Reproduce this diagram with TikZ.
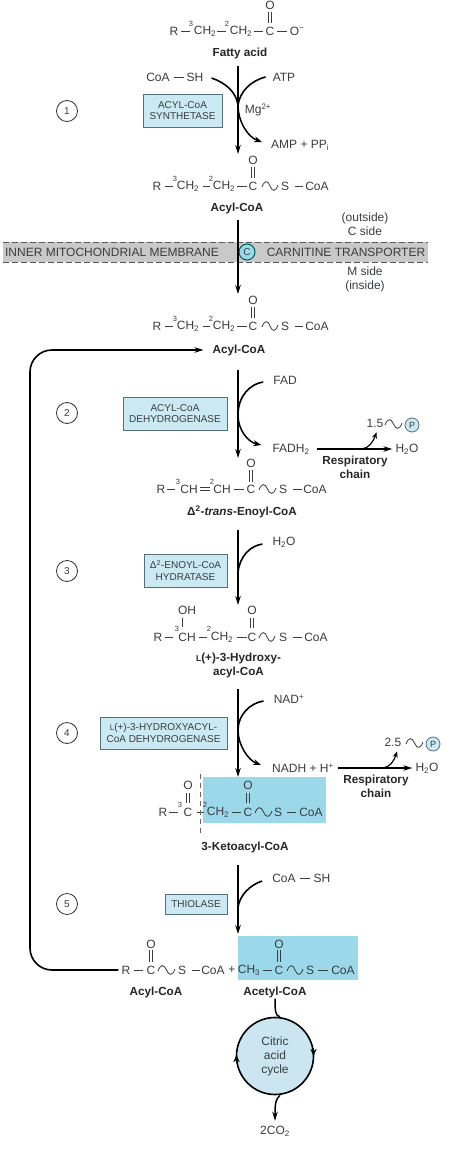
\documentclass[tikz,border=0pt]{standalone}
\usepackage{fontspec}
\setmainfont{Liberation Sans}
\usetikzlibrary{arrows.meta}
\definecolor{ink}{HTML}{3A3D40}
\definecolor{enzfill}{HTML}{CBE9F2}
\definecolor{enzline}{HTML}{55707A}
\definecolor{hilite}{HTML}{9AD8EA}
\definecolor{memb}{HTML}{C9C9C9}
\definecolor{cyclefill}{HTML}{CBE6F0}
\newcounter{autonode}
\tikzset{
  txt/.style={inner sep=0pt,text=ink,font=\fontsize{12}{14}\selectfont,align=center},
  name label/.style={inner sep=0pt,text=black!85,font=\fontsize{11.7}{14}\bfseries\selectfont,align=center},
  small digit/.style={inner sep=0pt,text=ink,font=\fontsize{7.5}{8}\selectfont},
  enzyme/.style={draw=enzline,fill=enzfill,line width=0.9pt,inner sep=0pt,text=ink,align=center,font=\fontsize{10}{11.6}\selectfont},
  stepnum/.style={draw=black!80,circle,line width=0.8pt,minimum size=21pt,inner sep=0pt,text=ink,font=\fontsize{10}{12}\selectfont},
  bond/.style={draw=ink,line width=0.7pt},
  rxnarrow/.style={draw=black,line width=1.5pt,-{Stealth[length=9pt,width=5.5pt]}},
  curved/.style={draw=black,line width=1.6pt},
  curvedarrow/.style={draw=black,line width=1.5pt,-{Stealth[length=8pt,width=6pt]}},
  pcircle/.style={draw=enzline,fill=enzfill,circle,line width=0.8pt,minimum size=14pt,inner sep=0pt,text=ink,font=\fontsize{9}{10}\selectfont},
  memline/.style={draw=black!65,line width=0.8pt,dash pattern=on 6pt off 3pt},
}
\newcommand{\seg}[3]{\stepcounter{autonode}\node[txt] (s\theautonode) at (#1,#2) {#3};}
\newcommand{\dig}[3]{\stepcounter{autonode}\node[small digit] (s\theautonode) at (#1,#2) {#3};}
\newcommand{\bd}[3]{\draw[bond] (#1,#3) -- (#2,#3);}
\newcommand{\dbl}[3]{\draw[bond] (#1-1.6,#2) -- (#1-1.6,#3) (#1+1.6,#2) -- (#1+1.6,#3);}
\newcommand{\wave}[3]{\draw[bond,line width=0.8pt] (#1,#3+1) .. controls (#1+2.5,#3-6) and (#1+6,#3-6) .. ({(#1+#2)/2},#3) .. controls ({(#1+#2)/2+2.5},#3+6) and (#2-2.5,#3+6) .. (#2,#3-1);}
% common Acyl-CoA formula
\newcommand{\acylcoa}[1]{%
  \seg{157}{#1}{R}\bd{165}{173}{#1}\dig{175}{#1-7}{3}\seg{188}{#1}{CH\textsubscript{2}}%
  \bd{203}{210}{#1}\dig{211}{#1-7}{2}\seg{224}{#1}{CH\textsubscript{2}}\bd{237}{247}{#1}%
  \seg{253}{#1}{C}\seg{253}{#1-26}{O}\dbl{253}{#1-19}{#1-8}\wave{262}{278}{#1}%
  \seg{285}{#1}{S}\bd{295}{303}{#1}\seg{317}{#1}{CoA}}
\begin{document}
\begin{tikzpicture}[x=1pt,y=-1pt]
\useasboundingbox (0,0) rectangle (474,1153);
\fill[white] (0,0) rectangle (474,1153);

% highlights
\fill[hilite] (203,777) rectangle (326,823);
\fill[hilite] (238,936) rectangle (358,980);

% membrane
\fill[memb] (3,242) rectangle (428,262);
\draw[memline] (3,242) -- (428,242);
\draw[memline] (3,262) -- (428,262);
\node[txt] (memtext) at (112,252) {INNER MITOCHONDRIAL MEMBRANE};
\node[txt] (cartext) at (346,252) {CARNITINE TRANSPORTER};
\node[txt] (outside) at (365,224.5) {(outside)\\C side};
\node[txt] (inside) at (365,279) {M side\\(inside)};
\node[draw=teal!70!black,fill=hilite,circle,line width=1pt,minimum size=16pt,inner sep=0pt,text=ink,font=\fontsize{10}{12}\selectfont] (carrier) at (247,252) {C};

% fatty acid
\seg{174}{31}{R}\bd{181}{190}{31}\dig{191}{24}{3}\seg{205}{31}{CH\textsubscript{2}}
\bd{217}{226}{31}\dig{227}{24}{2}\seg{241}{31}{CH\textsubscript{2}}\bd{254}{263}{31}
\seg{270}{31}{C}\seg{270}{5}{O}\dbl{270}{12}{23}\bd{277}{287}{31}
\seg{297}{31}{O\textsuperscript{−}}
\node[name label] (fatty) at (240,53) {Fatty acid};

% acyl-CoA 1 and 2
\acylcoa{186}
\node[name label] (acyl1) at (237,208) {Acyl-CoA};
\acylcoa{326}
\node[name label] (acyl2) at (239,350) {Acyl-CoA};

% enoyl-CoA
\seg{161}{489}{R}\bd{167}{175}{489}\dig{178}{482}{3}\seg{189}{489}{CH}
\draw[bond] (200,487.5) -- (210,487.5) (200,490.5) -- (210,490.5);
\dig{212}{482}{2}\seg{222}{489}{CH}\bd{234}{244}{489}
\seg{251}{489}{C}\seg{251}{463}{O}\dbl{251}{470}{482}\wave{259}{276}{489}
\seg{283}{489}{S}\bd{293}{302}{489}\seg{315}{489}{CoA}
\node[name label] (enoyl) at (242,512) {Δ\textsuperscript{2}-\textit{trans}-Enoyl-CoA};

% hydroxyacyl-CoA
\seg{158}{637}{R}\bd{165}{173}{637}\dig{177}{629}{3}\seg{187}{637}{CH}
\seg{187}{610}{OH}\draw[bond] (182,618) -- (182,627);
\bd{199}{207}{637}\dig{209}{629}{2}\seg{222}{637}{CH\textsubscript{2}}\bd{237}{247}{637}
\seg{252}{637}{C}\seg{252}{610}{O}\dbl{252}{618}{628}\wave{259}{275}{637}
\seg{283}{637}{S}\bd{293}{302}{637}\seg{316}{637}{CoA}
\node[name label] (hydroxy) at (238.5,665) {{\fontsize{8.5}{10}\selectfont L}(+)-3-Hydroxy-\\acyl-CoA};

% ketoacyl-CoA
\seg{163}{812}{R}\bd{169}{178}{812}\dig{180}{805}{3}\seg{188}{812}{C}
\seg{188}{785}{O}\dbl{188}{793}{803}\bd{197}{204}{812}\dig{205}{805}{2}
\seg{218}{812}{CH\textsubscript{2}}\bd{232}{241}{812}
\seg{248}{812}{C}\seg{248}{785}{O}\dbl{248}{793}{803}\wave{255}{272}{812}
\seg{278}{812}{S}\bd{287}{296}{812}\seg{311}{812}{CoA}
\draw[draw=black!60,line width=0.8pt,dash pattern=on 5pt off 4pt] (200,774) -- (200,834);
\node[name label] (keto) at (245,847) {3-Ketoacyl-CoA};

% products of thiolase
\node[txt] (Rfinal) at (126,970) {R};
\bd{134}{143}{970}\seg{151}{970}{C}\seg{151}{944}{O}\dbl{151}{950}{962}\wave{158}{175}{970}
\seg{182}{970}{S}\bd{192}{200}{970}\seg{213}{970}{CoA}\seg{232}{970}{+}
\seg{249}{970}{CH\textsubscript{3}}\bd{263}{272}{970}
\seg{279}{970}{C}\seg{279}{944}{O}\dbl{279}{950}{962}\wave{287}{303}{970}
\seg{310}{970}{S}\bd{318}{328}{970}\seg{343}{970}{CoA}
\node[name label] (acylfinal) at (156,992) {Acyl-CoA};
\node[name label] (acetyl) at (275,992) {Acetyl-CoA};

% step numbers
\node[stepnum] (n1) at (67,111) {1};
\node[stepnum] (n2) at (67,413) {2};
\node[stepnum] (n3) at (67,571) {3};
\node[stepnum] (n4) at (67,733) {4};
\node[stepnum] (n5) at (67,904) {5};

% enzymes
\node[enzyme,minimum width=79pt,minimum height=33pt] (e1) at (182.5,110.5) {ACYL-CoA\\SYNTHETASE};
\node[enzyme,minimum width=104pt,minimum height=33pt] (e2) at (175,413.5) {ACYL-CoA\\DEHYDROGENASE};
\node[enzyme,minimum width=83pt,minimum height=33pt] (e3) at (185.5,570.5) {Δ\textsuperscript{2}-ENOYL-CoA\\HYDRATASE};
\node[enzyme,minimum width=127pt,minimum height=32pt] (e4) at (163.5,733) {{\fontsize{8}{9}\selectfont L}(+)-3-HYDROXYACYL-\\CoA DEHYDROGENASE};
\node[enzyme,minimum width=62pt,minimum height=20pt] (e5) at (196,904) {THIOLASE};

% side substrates
\node[txt] (coa1) at (158,77) {CoA};\bd{174}{184}{77}\node[txt] (sh1) at (195,77) {SH};
\node[txt] (atp) at (284,77) {ATP};
\node[txt] (mg) at (258,110) {Mg\textsuperscript{2+}};
\node[txt,anchor=west] (amp) at (271,145) {AMP + PP\textsubscript{i}};
\node[txt] (fad) at (285,380) {FAD};
\node[txt] (fadh) at (291,449) {FADH\textsubscript{2}};
\node[txt] (wat) at (284,542) {H\textsubscript{2}O};
\node[txt] (nad) at (289,699) {NAD\textsuperscript{+}};
\node[txt] (nadh) at (303,768) {NADH + H\textsuperscript{+}};
\node[txt] (coa5) at (284,878) {CoA};\bd{300}{310}{878}\node[txt] (sh5) at (322,878) {SH};

% main arrows
\coordinate (a1) at (238,66);\coordinate (b1) at (238,154);
\coordinate (a2) at (238,220);\coordinate (b2) at (238,294);
\coordinate (a3) at (238,370);\coordinate (b3) at (238,458);
\coordinate (a4) at (238,530);\coordinate (b4) at (238,605);
\coordinate (a5) at (238,689);\coordinate (b5) at (238,777);
\coordinate (a6) at (238,865);\coordinate (b6) at (238,934);
\draw[rxnarrow] (a1) -- (b1);
\draw[rxnarrow] (a2) -- (b2);
\draw[rxnarrow] (a3) -- (b3);
\draw[rxnarrow] (a4) -- (b4);
\draw[rxnarrow] (a5) -- (b5);
\draw[rxnarrow] (a6) -- (b6);

% curved side arrows
\draw[curved] ([xshift=8pt,yshift=-1pt]sh1.east) .. controls (226,83) and (236,92) .. (238,105);
\draw[curved] ([xshift=-7pt]atp.west) .. controls (250,81) and (240,92) .. (238,105);
\draw[curvedarrow] (238,105) .. controls (238,122) and (248,137) .. ([xshift=-9pt,yshift=3pt]amp.west);
\draw[curved] ([xshift=-10pt,yshift=-2pt]fad.west) .. controls (250,384) and (238,396) .. (238,415);
\draw[curvedarrow] (238,415) .. controls (238,430) and (248,442) .. ([xshift=-11pt,yshift=4pt]fadh.west);
\draw[curved] ([xshift=-10pt,yshift=-2pt]wat.west) .. controls (250,546) and (240,556) .. (238,572);
\draw[curved] ([xshift=-10pt,yshift=-2pt]nad.west) .. controls (250,703) and (238,715) .. (238,730);
\draw[curvedarrow] (238,730) .. controls (238,745) and (248,760) .. ([xshift=-11pt,yshift=3pt]nadh.west);
\draw[curved] ([xshift=-10pt,yshift=-3pt]coa5.west) .. controls (250,885) and (240,895) .. (238,907);

% respiratory chains
\node[txt] (w1) at (407,449) {H\textsubscript{2}O};
\node[name label] (rc1) at (355,467.5) {Respiratory\\chain};
\node[txt] (num1) at (375,423) {1.5};
\wave{385}{402}{424}
\node[pcircle] (p1) at (412,425) {P};
\draw[rxnarrow,line width=1.4pt] ([xshift=7pt]fadh.east) -- ([xshift=-3pt]w1.west);
\draw[curvedarrow,line width=1.2pt,-{Stealth[length=6pt,width=5pt]}] (362,449) .. controls (369,448) and (373,442) .. ([xshift=1.5pt,yshift=-5pt]num1.south);
\node[txt] (w2) at (427,768) {H\textsubscript{2}O};
\node[name label] (rc2) at (376,786.5) {Respiratory\\chain};
\node[txt] (num2) at (393,742) {2.5};
\wave{406}{423}{743}
\node[pcircle] (p2) at (433,744) {P};
\draw[rxnarrow,line width=1.4pt] ([xshift=4pt]nadh.east) -- ([xshift=-3pt]w2.west);
\draw[curvedarrow,line width=1.2pt,-{Stealth[length=6pt,width=5pt]}] (383,768) .. controls (390,767) and (394,761) .. ([xshift=4pt,yshift=-5pt]num2.south);

% feedback loop
\draw[rxnarrow,rounded corners=22pt,line width=1.6pt] ([xshift=-3pt]Rfinal.west) -- (30,970) -- (30,350) -- ([xshift=-9pt]acyl2.west);

% citric acid cycle
\node[draw=black,fill=cyclefill,circle,line width=1.6pt,minimum size=77pt,inner sep=0pt,txt] (cycle) at (275,1056) {Citric\\acid\\cycle};
\draw[curved,line width=1.5pt] ([yshift=-1pt]acetyl.south) .. controls (275,1012) and (275.5,1016) .. ([xshift=5pt]cycle.north);
\draw[-{Stealth[length=7pt,width=6pt]},line width=0.1pt] (313.5,1048) -- (313.5,1056);
\draw[-{Stealth[length=7pt,width=6pt]},line width=0.1pt] (236.5,1063) -- (236.5,1055);
\node[txt] (co2) at (275,1131) {2CO\textsubscript{2}};
\draw[rxnarrow] ([xshift=5pt]cycle.south) .. controls (276,1099) and (275,1102) .. ([yshift=5pt]co2.north);
\end{tikzpicture}
\end{document}
